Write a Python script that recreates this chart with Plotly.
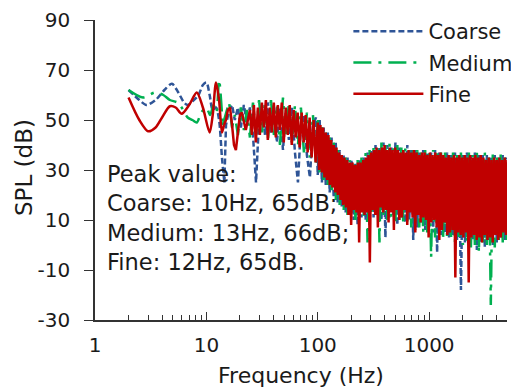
import plotly.graph_objects as go

# ---------------- data ----------------
# low-frequency part (smooth curves), each series sampled on its own points
coarse_low_f = [2, 2.5, 2.9, 3.5, 4.2, 4.9, 5.6, 6.3, 6.8, 7.5, 8.5, 9.3, 10, 10.7, 11.4, 12.2, 13, 13.8, 14.5]
coarse_low_db = [62, 58, 56, 58, 62, 64.5, 61, 57, 56, 57.5, 60, 64, 65, 60, 54, 55, 50, 35, 25]

medium_low_f = [2, 2.7, 3.45, 4.1, 4.7, 5.5, 6.0, 6.8, 7.5, 8.2, 9.0, 10, 10.8, 11.6, 12.3, 13, 14]
medium_low_db = [62, 59, 61, 60, 58, 57, 55, 51, 50, 49, 53, 55, 52, 56, 53, 66, 48]

fine_low_f = [2, 2.5, 3, 3.5, 4, 4.7, 5.3, 6, 7, 8.2, 9.3, 10.7, 11.4, 12.2, 13, 13.8, 14.4]
fine_low_db = [59, 50, 45.5, 47, 51, 55.5, 55, 52.5, 56, 61, 55, 45, 52, 65, 58, 45, 48]

# dense part of the spectrum, Coarse and Medium sample frequencies (Hz)
cm_freq_hi = [15, 16, 17, 18, 19.2, 20.4, 21.7, 23.1, 24.6, 26.2, 27.9, 29.7, 31.6, 33.6, 35.7,
              38, 40.4, 43, 45.8, 48.7, 51.8, 55.1, 58.6, 62.4, 66.4, 70.6, 75.1, 79.9, 85, 90.5, 96.3,
              100, 104, 109, 113, 118, 123, 128, 133, 139, 145, 151, 157, 164, 171, 178, 185, 193,
              201, 210, 218, 228, 237, 247, 258, 269, 280, 292,
              304, 317, 330, 344, 358, 373, 389, 405, 422, 440, 458, 478, 498, 518, 540, 563, 586,
              611, 637, 663, 691, 720, 750, 782, 815, 849, 884, 921, 960, 1000, 1042, 1086, 1131,
              1179, 1228, 1280, 1333, 1389, 1448, 1508, 1572, 1638, 1706, 1778, 1852, 1930, 2011,
              2096, 2184, 2275, 2371, 2470, 2574, 2682, 2795, 2912, 3034, 3162, 3294, 3433, 3577,
              3727, 3884, 4047, 4217, 4394, 4578, 4771, 4971]

coarse_hi_db = [48, 54, 56, 50, 55, 47, 56, 49, 55, 44, 25, 50, 56, 44, 57, 45, 56, 41, 55, 38,
                54, 42, 55, 37, 25, 48, 52, 36, 27, 48, 51,
                28, 50, 25, 47, 24, 45, 21, 43, 19, 41, 17, 38, 15, 36, 13, 35, 12, 34, 10, 33,
                8, 34, 11, 35, 10, 37, 8,
                38, 11, 40, 12, 39, 10, 41, 3, 40, 11, 39, 12, 41, 8, 39, 11, 38, 9, 40, 10,
                38, 2, 38, 7, 37, 9, 38, 6, 37, 7, 37, 5, 38, -3, 37, 4, 36, 5, 37, 3, 36, 4,
                37, 2, 36, -18, 36, 1, 37, 0, 36, 2, 37, -2, 36, 1, 36, -1, 36, 2, 35, 0, 36,
                1, 35, 3, 36, 2, 35]

medium_hi_db = [53, 57, 47, 52, 44, 55, 46, 54, 43, 57, 44, 58, 45, 57, 42, 58, 44, 56, 40, 59,
                43, 57, 41, 56, 40, 55, 37, 53, 35, 52, 33,
                51, 29, 48, 26, 45, 24, 43, 21, 41, 18, 38, 16, 36, 14, 35, 12, 34, 13, 33, 10,
                34, 12, 35, 11, 37, 1, 38,
                12, 39, 13, 40, 1, 41, 12, 40, 10, 41, 11, 39, 9, 40, 10, 39, 8, 39, 9, 38,
                7, 38, 6, 38, 7, 37, 5, 38, 5, 37, -5, 38, 3, 37, 4, 37, 2, 37, 3, 36, 2, 37,
                1, 36, 2, 37, 0, 36, 1, 37, -1, 36, 0, 37, -3, 36, 1, 37, 0, 36, -24, 37, -1,
                36, 2, 37, 1, 36, 2]

# dense part, Fine sample frequencies (Hz)
fine_freq_hi = [15, 15.6, 16.3, 17, 17.7, 18.4, 19.2, 20, 20.8, 21.7, 22.6, 23.6, 24.6, 25.6,
                26.7, 27.8, 29, 30.2, 31.5, 32.8, 34.2, 35.6, 37.1, 38.7, 40.3, 42, 43.8, 45.6,
                47.5, 49.5, 51.6, 53.8, 56, 58.4, 60.8, 63.4, 66, 68.8, 71.7, 74.7, 77.9, 81.1,
                84.5, 88.1, 91.8, 95.6,
                100, 102.8, 105.7, 108.7, 111.7, 114.8, 118, 121.3, 124.7, 128.2, 131.8, 135.5,
                139.3, 143.2, 147.2, 151.3, 155.5, 159.9, 164.4, 169, 173.7, 178.6, 183.6, 188.7,
                194, 199.4, 205, 210.7, 216.6, 222.7, 228.9, 235.3, 241.9, 248.7, 255.7, 262.8,
                270.2, 277.7, 285.5, 293.5,
                301.7, 310.2, 318.9, 327.8, 337, 346.4, 356.1, 366.1, 376.3, 386.9,
                397.7, 408.8, 420.3, 432.1, 444.2, 456.6, 469.4, 482.5, 496, 509.9,
                524.2, 538.9, 554, 569.5, 585.4, 601.8, 618.7, 636, 653.8, 672.1,
                690.9, 710.3, 730.2, 750.6, 771.6, 793.2, 815.4, 838.3, 861.8, 885.9,
                910.7, 936.2, 962.4, 989.4, 1017, 1046, 1075, 1105, 1136, 1168,
                1200, 1234, 1268, 1304, 1341, 1378, 1417, 1456, 1497, 1539,
                1582, 1627, 1672, 1719, 1767, 1817, 1868, 1920, 1974, 2029,
                2086, 2144, 2204, 2266, 2329, 2395, 2462, 2531, 2601, 2674,
                2749, 2826, 2905, 2987, 3070, 3156, 3245, 3335, 3429, 3525,
                3623, 3725, 3829, 3936, 4046, 4160, 4276, 4396, 4519, 4646,
                4776, 4910, 5047]

fine_hi_db = [50, 54, 55, 48, 40, 38, 45, 52, 53, 49, 46, 50, 54, 44, 56, 41, 55, 44, 57, 47,
              58, 42, 55, 45, 57, 43, 56, 46, 57, 41, 55, 44, 56, 40, 54, 43, 53, 39, 53, 41,
              52, 37, 51, 35, 50, 33,
              49, 30, 48, 29, 47, 27, 45, 26, 44, 24, 42, 23, 40, 21, 39, 20, 37, 18, 36, 16,
              35, 15, 34, 12, 33, 8, 33, 14, 32, 13, 33, 1, 33, 13, 34, 12, 35, 13, 36, -7,
              37, 14, 38, 12, 39, 7, 38, 15, 39, 13,
              40, 14, 38, 9, 39, 13, 38, 6, 39, 14,
              38, 10, 37, 11, 38, 14, 37, 8, 38, 13,
              37, 11, 38, 5, 37, 12, 36, 9, 37, 11,
              37, 10, 36, 3, 37, 9, 36, 10, 37, 7,
              36, 2, 37, 6, 36, 9, 35, 4, 36, 5,
              35, 6, 36, -13, 35, 5, 36, 4, 35, 3,
              36, 5, 35, -15, 36, 3, 35, 4, 36, 2,
              35, 3, 36, 1, 35, 4, 34, 2, 35, 3,
              34, 1, 35, 4, 34, 2, 35, 3, 34, 5,
              35, 4, 34]

series_names = ["Coarse", "Medium", "Fine"]
peak_lines = ["Peak value:", "Coarse: 10Hz, 65dB;", "Medium: 13Hz, 66dB;", "Fine: 12Hz, 65dB."]

x_tick_vals = [1, 10, 100, 1000]
x_tick_text = ["1", "10", "100", "1000"]
x_minor_vals = [2, 3, 4, 5, 6, 7, 8, 9, 20, 30, 40, 50, 60, 70, 80, 90,
                200, 300, 400, 500, 600, 700, 800, 900, 2000, 3000, 4000, 5000]
y_tick_vals = [-30, -10, 10, 30, 50, 70, 90]
y_tick_text = ["-30", "-10", "10", "30", "50", "70", "90"]

# ---------------- figure ----------------
FONT = "DejaVu Sans"
TXT = "#1a1a1a"
AX = "#333333"

styles = {
    "Coarse": dict(color="#2F5597", dash="6px,3px"),
    "Medium": dict(color="#00B050", dash="18px,7px,3px,7px"),
    "Fine": dict(color="#C00000", dash="solid"),
}
data = {
    "Coarse": (coarse_low_f, coarse_low_db, cm_freq_hi, coarse_hi_db),
    "Medium": (medium_low_f, medium_low_db, cm_freq_hi, medium_hi_db),
    "Fine": (fine_low_f, fine_low_db, fine_freq_hi, fine_hi_db),
}

fig = go.Figure()
for name in series_names:
    lf, ldb, hf, hdb = data[name]
    st = styles[name]
    # smooth low-frequency part (carries the legend entry)
    fig.add_trace(go.Scatter(
        x=lf, y=ldb, mode="lines", name=name, legendgroup=name,
        line=dict(color=st["color"], dash=st["dash"], width=2.5, shape="spline", smoothing=0.8),
    ))
    # dense part, continuing from the last low-frequency point
    fig.add_trace(go.Scatter(
        x=[lf[-1]] + hf, y=[ldb[-1]] + hdb, mode="lines", name=name, legendgroup=name,
        showlegend=False,
        line=dict(color=st["color"], dash=st["dash"], width=2.5, shape="linear"),
    ))

fig.add_annotation(
    text="<br>".join(peak_lines), xref="paper", yref="paper", x=0.024, y=0.34,
    xanchor="left", yanchor="middle", align="left", showarrow=False,
    font=dict(family=FONT, size=22.5, color=TXT),
)
# y-axis title placed as rotated text
fig.add_annotation(
    text="SPL (dB)", xref="paper", yref="paper", x=-0.172, y=0.507,
    xanchor="center", yanchor="middle", textangle=-90, showarrow=False,
    font=dict(family=FONT, size=23, color=TXT),
)

fig.update_layout(
    width=511, height=390,
    margin=dict(l=95, r=4, t=20, b=70, autoexpand=False),
    paper_bgcolor="white", plot_bgcolor="white",
    font=dict(family=FONT, color=TXT, size=20),
    legend=dict(x=0.615, y=1.03, xanchor="left", yanchor="top", bgcolor="rgba(0,0,0,0)",
                font=dict(family=FONT, size=21, color=TXT), tracegroupgap=1,
                itemwidth=70),
    showlegend=True,
)
fig.update_xaxes(
    type="log", range=[0, 3.699], showgrid=False, zeroline=False,
    showline=True, linecolor=AX, linewidth=1.5,
    tickvals=x_tick_vals, ticktext=x_tick_text, ticks="inside", ticklen=8,
    tickcolor=AX, tickwidth=1.2, ticklabelstandoff=6,
    minor=dict(tickvals=x_minor_vals, ticks="inside", ticklen=5, tickcolor=AX,
               tickwidth=1.2, showgrid=False),
    tickfont=dict(family=FONT, size=20, color=TXT),
    title=dict(text="Frequency (Hz)", font=dict(family=FONT, size=22, color=TXT), standoff=12),
)
fig.update_yaxes(
    range=[-30, 90], showgrid=False, zeroline=False,
    showline=True, linecolor=AX, linewidth=1.5,
    tickvals=y_tick_vals, ticktext=y_tick_text,
    ticks="outside", ticklen=9, tickcolor=AX, tickwidth=1.2,
    tickfont=dict(family=FONT, size=20, color=TXT), ticklabelstandoff=10,
)

fig.write_html("out.html")
